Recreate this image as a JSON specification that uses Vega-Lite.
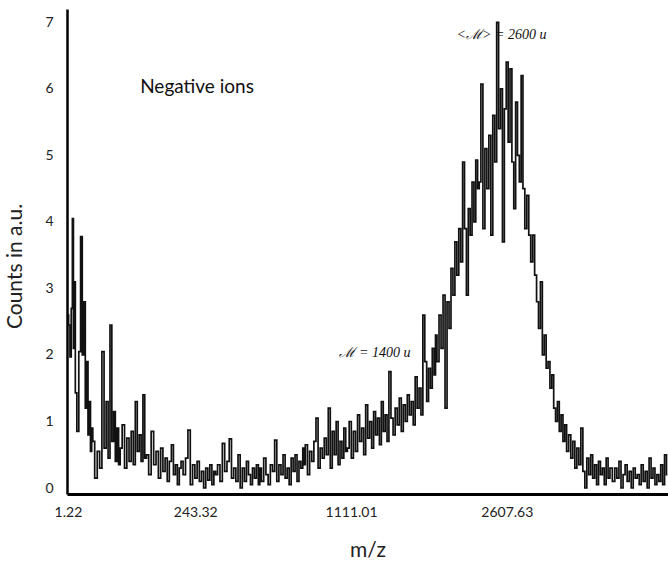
{
  "$schema": "https://vega.github.io/schema/vega-lite/v6.json",
  "width": 601,
  "height": 485,
  "autosize": {"type": "none"},
  "padding": {"left": 67, "top": 9, "right": 0, "bottom": 67},
  "background": "white",
  "config": {
    "view": {"stroke": null},
    "axis": {"grid": false, "ticks": false, "tickSize": 0, "domainColor": "#000", "labelFont": "Lato", "titleFont": "Lato", "labelColor": "#222", "titleColor": "#222", "titleFontWeight": "normal", "labelFontSize": 14, "titleFontSize": 21}
  },
  "layer": [
    {
      "data": {"values": [
        {"mz":1.22,"counts":2.6},{"mz":1.6,"counts":2.45},{"mz":2.0,"counts":1.97},{"mz":2.4,"counts":2.7},{"mz":2.8,"counts":4.05},{"mz":3.2,"counts":2.1},{"mz":3.6,"counts":3.1},
        {"mz":4,"counts":1.43},{"mz":5,"counts":0.85},{"mz":6,"counts":2.05},{"mz":7,"counts":3.78},{"mz":8,"counts":2.0},{"mz":9,"counts":2.8},{"mz":10,"counts":1.2},{"mz":11,"counts":1.9},{"mz":12,"counts":0.8},{"mz":13,"counts":1.3},{"mz":14,"counts":0.55},{"mz":15,"counts":0.9},
        {"mz":16,"counts":0.7},{"mz":18.5,"counts":0.15},{"mz":21,"counts":0.55},{"mz":23.5,"counts":0.3},{"mz":26,"counts":2.05},{"mz":28.5,"counts":0.6},{"mz":31,"counts":1.3},{"mz":33.5,"counts":0.45},{"mz":36,"counts":2.45},{"mz":38.5,"counts":0.7},{"mz":41,"counts":1.15},{"mz":43.5,"counts":0.4},{"mz":46,"counts":0.9},{"mz":48.5,"counts":0.35},
        {"mz":51,"counts":0.6},{"mz":55,"counts":0.95},{"mz":59,"counts":0.3},{"mz":63,"counts":0.75},{"mz":67,"counts":0.4},{"mz":71,"counts":0.85},{"mz":75,"counts":0.35},{"mz":79,"counts":1.3},{"mz":83,"counts":0.55},{"mz":87,"counts":0.8},{"mz":91,"counts":0.4},{"mz":95,"counts":1.4},{"mz":99,"counts":0.45},
        {"mz":103,"counts":0.5},{"mz":109,"counts":0.2},{"mz":115,"counts":0.85},{"mz":121,"counts":0.35},{"mz":127,"counts":0.55},{"mz":133,"counts":0.15},{"mz":139,"counts":0.6},{"mz":145,"counts":0.25},{"mz":151,"counts":0.45},{"mz":157,"counts":0.1},{"mz":163,"counts":0.4},{"mz":169,"counts":0.65},{"mz":175,"counts":0.2},{"mz":181,"counts":0.35},{"mz":187,"counts":0.05},{"mz":193,"counts":0.3},
        {"mz":198,"counts":0.4},{"mz":206,"counts":0.2},{"mz":214,"counts":0.45},{"mz":222,"counts":0.87},{"mz":230,"counts":0.05},{"mz":238,"counts":0.35},{"mz":246,"counts":0.15},{"mz":254,"counts":0.4},{"mz":262,"counts":0.1},{"mz":270,"counts":0.25},{"mz":278,"counts":0.0},{"mz":286,"counts":0.3},{"mz":294,"counts":0.12},{"mz":302,"counts":0.35},{"mz":310,"counts":0.05},{"mz":318,"counts":0.25},
        {"mz":324,"counts":0.2},{"mz":334,"counts":0.35},{"mz":344,"counts":0.1},{"mz":354,"counts":0.67},{"mz":364,"counts":0.25},{"mz":374,"counts":0.4},{"mz":384,"counts":0.74},{"mz":394,"counts":0.15},{"mz":404,"counts":0.3},{"mz":414,"counts":0.1},{"mz":424,"counts":0.5},{"mz":434,"counts":0.0},{"mz":444,"counts":0.3},{"mz":454,"counts":0.1},{"mz":464,"counts":0.4},{"mz":474,"counts":0.2},{"mz":484,"counts":0.05},{"mz":494,"counts":0.3},{"mz":504,"counts":0.15},{"mz":514,"counts":0.35},{"mz":524,"counts":0.05},
        {"mz":529,"counts":0.3},{"mz":541,"counts":0.1},{"mz":553,"counts":0.45},{"mz":565,"counts":0.2},{"mz":577,"counts":0.05},{"mz":589,"counts":0.35},{"mz":601,"counts":0.25},{"mz":613,"counts":0.72},{"mz":625,"counts":0.1},{"mz":637,"counts":0.35},{"mz":649,"counts":0.2},{"mz":661,"counts":0.5},{"mz":673,"counts":0.15},{"mz":685,"counts":0.3},{"mz":697,"counts":0.05},{"mz":709,"counts":0.45},{"mz":721,"counts":0.25},{"mz":733,"counts":0.5},{"mz":745,"counts":0.1},{"mz":757,"counts":0.4},{"mz":769,"counts":0.3},{"mz":781,"counts":0.6},
        {"mz":784,"counts":0.35},{"mz":798,"counts":0.65},{"mz":812,"counts":0.2},{"mz":826,"counts":0.55},{"mz":840,"counts":0.4},{"mz":854,"counts":0.7},{"mz":868,"counts":1.05},{"mz":882,"counts":0.3},{"mz":896,"counts":0.6},{"mz":910,"counts":0.45},{"mz":924,"counts":0.75},{"mz":938,"counts":0.5},{"mz":952,"counts":1.2},{"mz":966,"counts":0.3},{"mz":980,"counts":0.85},{"mz":994,"counts":0.5},{"mz":1008,"counts":1.0},{"mz":1022,"counts":0.35},{"mz":1036,"counts":0.7},{"mz":1050,"counts":0.45},{"mz":1064,"counts":0.9},{"mz":1078,"counts":0.55},
        {"mz":1089,"counts":0.6},{"mz":1105,"counts":1.0},{"mz":1121,"counts":0.45},{"mz":1137,"counts":0.85},{"mz":1153,"counts":0.55},{"mz":1169,"counts":1.1},{"mz":1185,"counts":0.7},{"mz":1201,"counts":0.9},{"mz":1217,"counts":0.5},{"mz":1233,"counts":1.25},{"mz":1249,"counts":0.75},{"mz":1265,"counts":1.0},{"mz":1281,"counts":0.6},{"mz":1297,"counts":1.15},{"mz":1313,"counts":0.8},{"mz":1329,"counts":1.05},{"mz":1345,"counts":0.65},{"mz":1361,"counts":1.3},{"mz":1377,"counts":0.85},{"mz":1393,"counts":1.1},{"mz":1409,"counts":0.7},{"mz":1425,"counts":1.75},
        {"mz":1444,"counts":1.05},{"mz":1462,"counts":0.8},{"mz":1480,"counts":1.2},{"mz":1498,"counts":0.95},{"mz":1516,"counts":1.35},{"mz":1534,"counts":0.85},{"mz":1552,"counts":1.25},{"mz":1570,"counts":1.0},{"mz":1588,"counts":1.4},{"mz":1606,"counts":1.1},{"mz":1624,"counts":1.3},{"mz":1642,"counts":0.95},{"mz":1660,"counts":1.67},{"mz":1678,"counts":1.2},{"mz":1696,"counts":1.5},{"mz":1714,"counts":1.1},{"mz":1732,"counts":2.6},{"mz":1750,"counts":1.9},{"mz":1768,"counts":1.3},{"mz":1786,"counts":1.8},{"mz":1804,"counts":1.5},{"mz":1822,"counts":2.1},{"mz":1840,"counts":1.7},
        {"mz":1849,"counts":2.3},{"mz":1869,"counts":1.9},{"mz":1889,"counts":2.6},{"mz":1909,"counts":2.1},{"mz":1929,"counts":2.9},{"mz":1949,"counts":1.2},{"mz":1969,"counts":2.8},{"mz":1989,"counts":2.4},{"mz":2009,"counts":3.3},{"mz":2029,"counts":2.9},{"mz":2049,"counts":3.7},{"mz":2069,"counts":3.2},{"mz":2089,"counts":3.9},{"mz":2109,"counts":3.4},{"mz":2129,"counts":4.9},{"mz":2149,"counts":3.9},{"mz":2169,"counts":2.9},{"mz":2189,"counts":4.2},{"mz":2209,"counts":3.8},{"mz":2229,"counts":4.6},{"mz":2249,"counts":4.0},{"mz":2269,"counts":4.93},{"mz":2289,"counts":4.5},
        {"mz":2304,"counts":4.6},{"mz":2326,"counts":6.07},{"mz":2348,"counts":3.9},{"mz":2370,"counts":5.1},{"mz":2392,"counts":4.5},{"mz":2414,"counts":5.3},{"mz":2436,"counts":3.8},{"mz":2458,"counts":5.6},{"mz":2480,"counts":4.9},{"mz":2502,"counts":7.0},{"mz":2524,"counts":5.4},{"mz":2546,"counts":6.0},{"mz":2568,"counts":3.7},{"mz":2590,"counts":5.7},{"mz":2612,"counts":6.4},{"mz":2634,"counts":5.2},{"mz":2656,"counts":6.3},{"mz":2678,"counts":4.9},{"mz":2700,"counts":4.2},{"mz":2722,"counts":5.8},{"mz":2744,"counts":5.0},{"mz":2766,"counts":4.6},{"mz":2788,"counts":6.2},
        {"mz":2809,"counts":4.5},{"mz":2833,"counts":3.9},{"mz":2857,"counts":4.4},{"mz":2881,"counts":3.8},{"mz":2905,"counts":3.4},{"mz":2929,"counts":3.8},{"mz":2953,"counts":3.2},{"mz":2977,"counts":2.8},{"mz":3001,"counts":2.4},{"mz":3025,"counts":3.1},{"mz":3049,"counts":2.0},{"mz":3073,"counts":2.3},{"mz":3097,"counts":1.8},{"mz":3121,"counts":1.9},{"mz":3145,"counts":1.5},{"mz":3169,"counts":1.7},{"mz":3193,"counts":1.2},{"mz":3217,"counts":1.0},{"mz":3241,"counts":1.3},{"mz":3265,"counts":0.85},{"mz":3289,"counts":1.1},{"mz":3313,"counts":0.7},{"mz":3337,"counts":0.95},{"mz":3361,"counts":0.55},
        {"mz":3391,"counts":0.8},{"mz":3418,"counts":0.45},{"mz":3445,"counts":0.7},{"mz":3472,"counts":0.3},{"mz":3499,"counts":0.6},{"mz":3526,"counts":0.35},{"mz":3553,"counts":0.9},{"mz":3580,"counts":0.25},{"mz":3607,"counts":0.0},{"mz":3634,"counts":0.45},{"mz":3661,"counts":0.2},{"mz":3688,"counts":0.5},{"mz":3715,"counts":0.15},{"mz":3742,"counts":0.35},{"mz":3769,"counts":0.05},{"mz":3796,"counts":0.4},{"mz":3823,"counts":0.2},{"mz":3850,"counts":0.3},{"mz":3877,"counts":0.05},{"mz":3904,"counts":0.45},{"mz":3931,"counts":0.15},{"mz":3958,"counts":0.3},
        {"mz":3999,"counts":0.1},{"mz":4029,"counts":0.3},{"mz":4059,"counts":0.15},{"mz":4089,"counts":0.4},{"mz":4119,"counts":0.0},{"mz":4149,"counts":0.2},{"mz":4179,"counts":0.35},{"mz":4209,"counts":0.1},{"mz":4239,"counts":0.25},{"mz":4269,"counts":0.0},{"mz":4299,"counts":0.3},{"mz":4329,"counts":0.15},{"mz":4359,"counts":0.2},{"mz":4389,"counts":0.05},{"mz":4419,"counts":0.35},{"mz":4449,"counts":0.1},{"mz":4479,"counts":0.25},{"mz":4509,"counts":0.0},{"mz":4539,"counts":0.45},{"mz":4569,"counts":0.15},{"mz":4599,"counts":0.3},{"mz":4629,"counts":0.05},{"mz":4659,"counts":0.2},{"mz":4689,"counts":0.1},{"mz":4719,"counts":0.35},{"mz":4749,"counts":0.05},{"mz":4779,"counts":0.5},{"mz":4809,"counts":0.2}
      ]},
      "mark": {"type": "line", "interpolate": "step", "color": "#111", "strokeWidth": 1.7, "clip": true},
      "encoding": {
        "x": {"field": "mz", "type": "quantitative", "title": "m/z",
          "scale": {"type": "sqrt", "domain": [1, 4818], "nice": false, "zero": false},
          "axis": {"values": [1.22, 243.32, 1111.01, 2607.63], "format": ".2f", "labelPadding": 11, "domainWidth": 3, "titleY": 56, "titleBaseline": "middle", "labelOverlap": false, "labelFlush": false, "labelBound": false}},
        "y": {"field": "counts", "type": "quantitative", "title": "Counts in a.u.",
          "scale": {"domain": [-0.09, 7.2], "nice": false, "zero": false},
          "axis": {"values": [0, 1, 2, 3, 4, 5, 6, 7], "format": "d", "labelPadding": 14, "domainWidth": 2.5, "titleX": -52, "titleY": 257, "titleAngle": 270, "titleBaseline": "middle", "titleAlign": "center"}}
      }
    },
    {
      "mark": {"type": "rule", "stroke": "#000", "strokeWidth": 2.5},
      "encoding": {"y": {"datum": 7.2}}
    },
    {
      "data": {"values": [{"mz": 249.6, "counts": 6.03, "label": "Negative ions"}]},
      "mark": {"type": "text", "font": "Lato", "fontSize": 19, "align": "center", "baseline": "middle", "color": "#111"},
      "encoding": {
        "x": {"field": "mz", "type": "quantitative", "title": "m/z", "scale": {"type": "sqrt", "domain": [1, 4818], "nice": false, "zero": false}},
        "y": {"field": "counts", "type": "quantitative", "title": "Counts in a.u.", "scale": {"domain": [-0.09, 7.2], "nice": false, "zero": false}},
        "text": {"field": "label"}
      }
    },
    {
      "data": {"values": [
        {"mz": 2546, "counts": 6.81, "label": "<ℳ> = 2600 u"},
        {"mz": 1300, "counts": 2.03, "label": "ℳ = 1400 u"}
      ]},
      "mark": {"type": "text", "font": "Liberation Serif", "fontStyle": "italic", "fontSize": 14, "align": "center", "baseline": "middle", "color": "#111"},
      "encoding": {
        "x": {"field": "mz", "type": "quantitative", "title": "m/z", "scale": {"type": "sqrt", "domain": [1, 4818], "nice": false, "zero": false}},
        "y": {"field": "counts", "type": "quantitative", "title": "Counts in a.u.", "scale": {"domain": [-0.09, 7.2], "nice": false, "zero": false}},
        "text": {"field": "label"}
      }
    }
  ]
}
